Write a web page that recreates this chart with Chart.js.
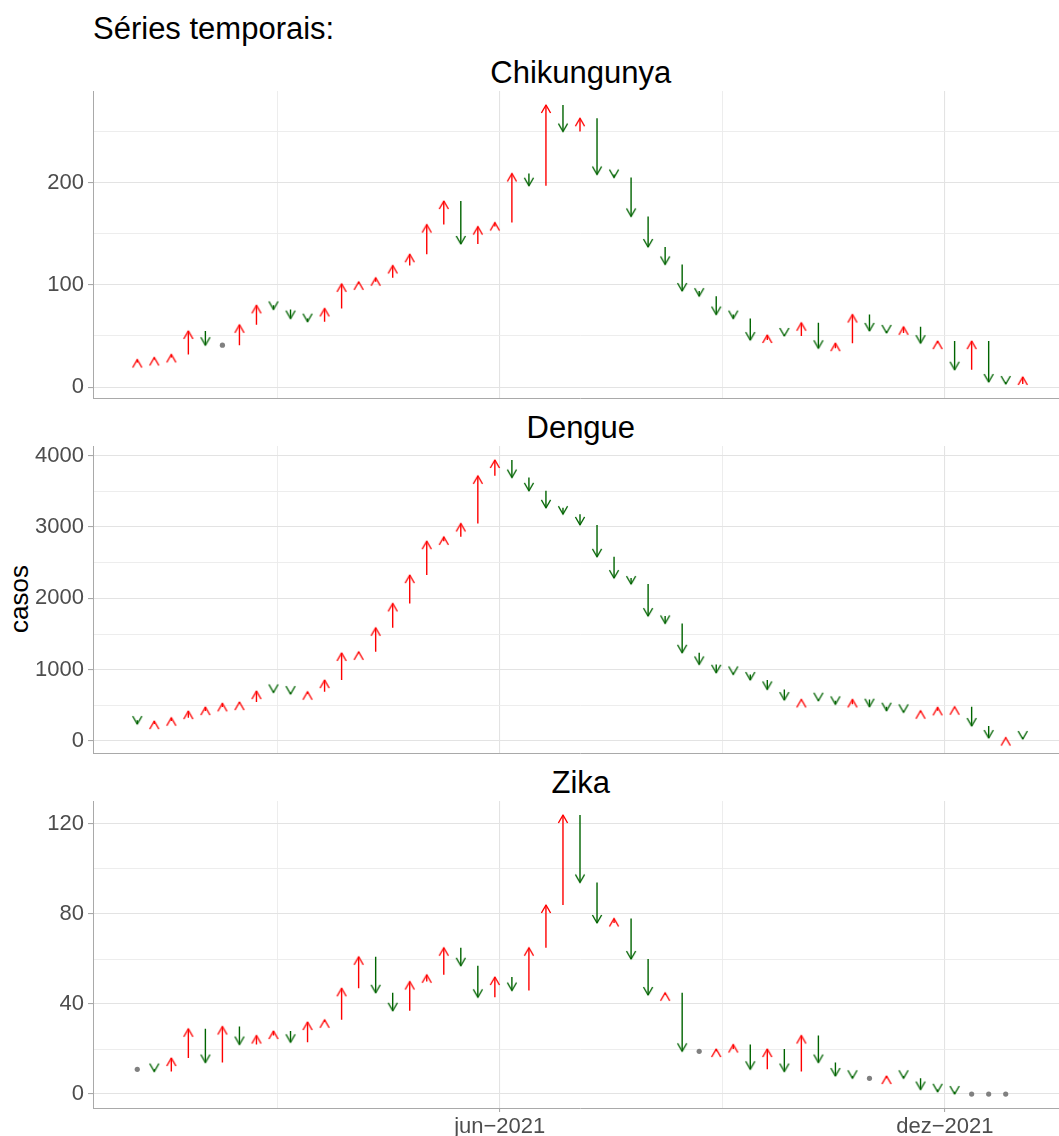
<!DOCTYPE html>
<html>
<head>
<meta charset="utf-8">
<script src="https://cdn.jsdelivr.net/npm/chart.js@4.4.1/dist/chart.umd.min.js"></script>
<style>
  html, body { margin: 0; padding: 0; background: #ffffff; overflow: hidden; }
  body { position: relative; width: 1059px; height: 1136px; font-family: "Liberation Sans", Arial, sans-serif; }
  canvas { position: absolute; left: 0; }
  .txt { position: absolute; white-space: nowrap; color: #000000; }
  .strip { transform: translateX(-50%); font-size: 31px; line-height: 31px; }
</style>
</head>
<body>
<div class="txt" style="left:93px; top:13px; font-size:31px; line-height:31px;">Séries temporais:</div>
<div class="txt strip" style="left:580.8px; top:57px;">Chikungunya</div>
<div class="txt strip" style="left:580.8px; top:412px;">Dengue</div>
<div class="txt strip" style="left:580.8px; top:767px;">Zika</div>
<div class="txt" style="left:19px; top:599px; font-size:26px; line-height:26px; transform: translate(-50%, -50%) rotate(-90deg);">casos</div>

<canvas id="cChik" width="1072" height="343" style="top:73px; width:1072px; height:343px;"></canvas>
<canvas id="cDengue" width="1072" height="343" style="top:428px; width:1072px; height:343px;"></canvas>
<canvas id="cZika" width="1072" height="353" style="top:783px; width:1072px; height:353px;"></canvas>

<script>
// ---------------- DATA ----------------
// weekly dates (epidemiological weeks, 2021)
const weeks = [
  '2021-01-03','2021-01-10','2021-01-17','2021-01-24','2021-01-31',
  '2021-02-07','2021-02-14','2021-02-21','2021-02-28',
  '2021-03-07','2021-03-14','2021-03-21','2021-03-28',
  '2021-04-04','2021-04-11','2021-04-18','2021-04-25',
  '2021-05-02','2021-05-09','2021-05-16','2021-05-23','2021-05-30',
  '2021-06-06','2021-06-13','2021-06-20','2021-06-27',
  '2021-07-04','2021-07-11','2021-07-18','2021-07-25',
  '2021-08-01','2021-08-08','2021-08-15','2021-08-22','2021-08-29',
  '2021-09-05','2021-09-12','2021-09-19','2021-09-26',
  '2021-10-03','2021-10-10','2021-10-17','2021-10-24','2021-10-31',
  '2021-11-07','2021-11-14','2021-11-21','2021-11-28',
  '2021-12-05','2021-12-12','2021-12-19','2021-12-26',
  '2022-01-02'
];

// value of the week before the first week (tail of the first arrow)
const chikPrevWeek = 24;
const denguePrevWeek = 290;
const zikaPrevWeek = 11;

const chikungunya = [
  27, 29, 32, 55, 41, 41, 61, 80, 76, 67,
  64, 77, 101, 103, 107, 119, 130, 159, 182, 140,
  157, 161, 209, 197, 276, 250, 263, 208, 205, 167,
  137, 120, 94, 89, 71, 67, 46, 51, 50, 63,
  38, 43, 71, 55, 53, 59, 43, 45, 17, 45,
  5, 3, 10
];

const dengue = [
  238, 280, 327, 420, 476, 528, 546, 700, 682, 658,
  691, 854, 1235, 1250, 1588, 1929, 2326, 2802, 2862, 3050,
  3717, 3940, 3694, 3507, 3269, 3180, 3030, 2582, 2284, 2200,
  1751, 1649, 1237, 1074, 957, 934, 855, 724, 574, 584,
  565, 514, 584, 481, 425, 402, 425, 472, 481, 210,
  42, 48, 28
];

const zika = [
  11, 10, 16, 29, 14, 30, 22, 26, 28, 23,
  32, 33, 47, 61, 45, 37, 50, 53, 65, 57,
  43, 52, 46, 65, 84, 124, 94, 76, 78, 60,
  44, 45, 19, 19, 20, 22, 11, 20, 10, 26,
  14, 8, 7, 7, 8, 7, 2, 1, 0, 0,
  0, 0, null
];

// axis ticks
const xMajorDates = ['2021-06-01', '2021-12-01'];
const xMajorLabels = ['jun\u22122021', 'dez\u22122021'];
const chikMajorTicks = [0, 100, 200];
const chikMinorTicks = [50, 150, 250];
const dengueMajorTicks = [0, 1000, 2000, 3000, 4000];
const dengueMinorTicks = [500, 1500, 2500, 3500];
const zikaMajorTicks = [0, 40, 80, 120];
const zikaMinorTicks = [20, 60, 100];

// ---------------- HELPERS ----------------
const FONT = "'Liberation Sans', Arial, sans-serif";
Chart.defaults.font.family = FONT;
const RED = '#ff0000';
const GREEN = '#006400';
const GREY = '#808080';
const TICK_TEXT = '#4d4d4d';
const AXIS_LINE = '#a9a9a9';
const GRID_MAJOR = '#e3e3e3';
const GRID_MINOR = '#ebebeb';

const DAY0 = Date.UTC(2021, 0, 1);
function dayNum(s) {
  const p = s.split('-').map(Number);
  return (Date.UTC(p[0], p[1] - 1, p[2]) - DAY0) / 86400000;
}

// x range like ggplot (5% expansion); minor breaks halfway between majors
const xs = weeks.map(dayNum);
const xSpan = xs[xs.length - 1] - xs[0];
const xMin = xs[0] - 0.05 * xSpan;
const xMax = xs[xs.length - 1] + 0.05 * xSpan;
const xMajor = xMajorDates.map(dayNum);
const xStep = xMajor[1] - xMajor[0];
const xMinor = [xMajor[0] - xStep / 2, xMajor[0] + xStep / 2];
const xTickVals = [...xMinor, ...xMajor].sort((a, b) => a - b);

function isIn(arr, v) { return arr.some(a => Math.abs(a - v) < 1e-6); }

function makeHead(color, up) {
  const c = document.createElement('canvas');
  c.width = 14; c.height = 22;
  const g = c.getContext('2d');
  g.strokeStyle = color;
  g.lineWidth = 1.4;
  g.lineJoin = 'round';
  g.lineCap = 'butt';
  const cx = 7, cy = 11, hw = 4.6, hl = 8;
  const dy = up ? hl : -hl;
  g.beginPath();
  g.moveTo(cx - hw, cy + dy);
  g.lineTo(cx, cy);
  g.lineTo(cx + hw, cy + dy);
  g.stroke();
  return c;
}
const headUp = makeHead(RED, true);
const headDown = makeHead(GREEN, false);

function buildDatasets(prev0, values) {
  const upShaft = [], downShaft = [], upHeads = [], downHeads = [], flat = [];
  let prev = prev0;
  values.forEach((v, i) => {
    if (v === null || v === undefined) return;
    const x = xs[i];
    if (v > prev) {
      upShaft.push({x: x, y: prev}, {x: x, y: v}, {x: x, y: null});
      upHeads.push({x: x, y: v});
    } else if (v < prev) {
      downShaft.push({x: x, y: prev}, {x: x, y: v}, {x: x, y: null});
      downHeads.push({x: x, y: v});
    } else {
      flat.push({x: x, y: v});
    }
    prev = v;
  });
  return [
    {data: flat, showLine: false, pointStyle: 'circle', pointRadius: 2.6,
     pointBackgroundColor: GREY, pointBorderColor: GREY, pointBorderWidth: 0},
    {data: upHeads, showLine: false, pointStyle: headUp, pointRadius: 3},
    {data: downHeads, showLine: false, pointStyle: headDown, pointRadius: 3},
    {data: upShaft, borderColor: RED, borderWidth: 1.4, pointRadius: 0, spanGaps: false, tension: 0},
    {data: downShaft, borderColor: GREEN, borderWidth: 1.4, pointRadius: 0, spanGaps: false, tension: 0}
  ];
}

function makePanel(id, prev0, values, majorTicks, minorTicks, showX) {
  const all = values.filter(v => v !== null).concat([prev0]);
  const lo = Math.min(...all), hi = Math.max(...all);
  const yMin = lo - 0.05 * (hi - lo);
  const yMax = hi + 0.05 * (hi - lo);
  const yTickVals = [...majorTicks, ...minorTicks].sort((a, b) => a - b);

  return new Chart(document.getElementById(id), {
    type: 'line',
    data: {datasets: buildDatasets(prev0, values)},
    options: {
      responsive: false,
      animation: false,
      events: [],
      devicePixelRatio: 1,
      layout: {padding: {top: 18, bottom: showX ? 0 : 18, left: 0, right: 3.4}},
      plugins: {legend: {display: false}, tooltip: {enabled: false}, title: {display: false}},
      scales: {
        x: {
          type: 'linear',
          min: xMin,
          max: xMax,
          afterBuildTicks: s => { s.ticks = xTickVals.map(v => ({value: v})); },
          afterFit: s => { s.height = showX ? 28 : 0; },
          ticks: {
            display: showX,
            autoSkip: false,
            maxRotation: 0,
            padding: 2,
            color: TICK_TEXT,
            font: {family: FONT, size: 22},
            callback: v => {
              const k = xMajor.findIndex(m => Math.abs(m - v) < 1e-6);
              return k >= 0 ? xMajorLabels[k] : '';
            }
          },
          grid: {
            drawTicks: showX,
            tickLength: 4,
            color: c => (c.tick && isIn(xMajor, c.tick.value)) ? GRID_MAJOR : GRID_MINOR,
            lineWidth: c => (c.tick && isIn(xMajor, c.tick.value)) ? 1.1 : 0.9,
            tickColor: c => (c.tick && isIn(xMajor, c.tick.value)) ? AXIS_LINE : 'rgba(0,0,0,0)'
          },
          border: {display: true, color: AXIS_LINE, width: 1}
        },
        y: {
          type: 'linear',
          min: yMin,
          max: yMax,
          afterBuildTicks: s => { s.ticks = yTickVals.map(v => ({value: v})); },
          afterFit: s => { s.width = 93; },
          ticks: {
            autoSkip: false,
            padding: 4,
            color: TICK_TEXT,
            font: {family: FONT, size: 22},
            callback: v => isIn(majorTicks, v) ? String(v) : ''
          },
          grid: {
            drawTicks: true,
            tickLength: 5,
            color: c => (c.tick && isIn(majorTicks, c.tick.value)) ? GRID_MAJOR : GRID_MINOR,
            lineWidth: c => (c.tick && isIn(majorTicks, c.tick.value)) ? 1.1 : 0.9,
            tickColor: c => (c.tick && isIn(majorTicks, c.tick.value)) ? AXIS_LINE : 'rgba(0,0,0,0)'
          },
          border: {display: true, color: AXIS_LINE, width: 1}
        }
      }
    }
  });
}

makePanel('cChik', chikPrevWeek, chikungunya, chikMajorTicks, chikMinorTicks, false);
makePanel('cDengue', denguePrevWeek, dengue, dengueMajorTicks, dengueMinorTicks, false);
makePanel('cZika', zikaPrevWeek, zika, zikaMajorTicks, zikaMinorTicks, true);
</script>
</body>
</html>
